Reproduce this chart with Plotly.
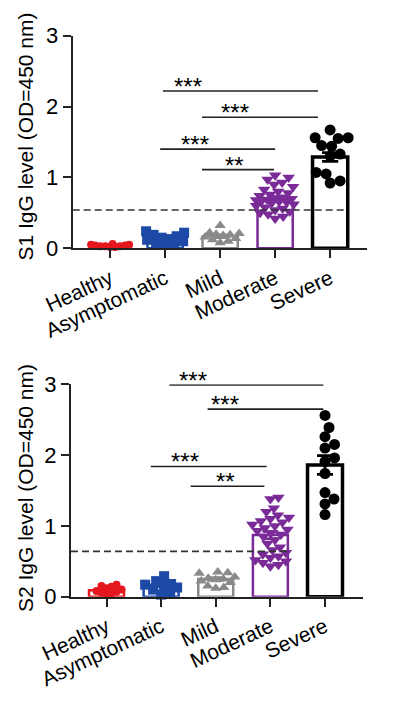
import plotly.graph_objects as go
import numpy as np

categories = ["Healthy", "Asymptomatic", "Mild", "Moderate", "Severe"]
colors = ["#e3171d", "#1d4aa6", "#8a8a8a", "#7a2b98", "#000000"]
symbols = ["circle", "square", "triangle-up", "triangle-down", "circle"]
msizes = [8, 10, 10, 11, 11]

# ---- S1 panel data ----
s1_healthy = [0.02, 0.03, 0.04, 0.05, 0.03, 0.06, 0.04, 0.02, 0.05, 0.03]
s1_asymptomatic = [0.24, 0.22, 0.19, 0.17, 0.15, 0.13, 0.12, 0.10, 0.08, 0.06, 0.05]
s1_mild = [0.32, 0.22, 0.21, 0.20, 0.19, 0.18, 0.16, 0.14, 0.12, 0.10, 0.08]
s1_moderate = [1.03, 1.00, 0.97, 0.93, 0.90, 0.87, 0.83, 0.80, 0.78, 0.76,
               0.74, 0.72, 0.71, 0.70, 0.69, 0.68, 0.67, 0.66, 0.65, 0.64,
               0.62, 0.60, 0.58, 0.56, 0.54, 0.52, 0.50, 0.48, 0.45, 0.42]
s1_severe = [1.67, 1.56, 1.56, 1.55, 1.45, 1.44, 1.33, 1.30, 1.07, 1.05, 0.95, 0.92]
s1_means = [0.04, 0.12, 0.17, 0.70, 1.29]
s1_sem = [0.005, 0.02, 0.02, 0.03, 0.06]
s1_cutoff = 0.54
s1_cutoff_end = 4.27
s1_sig_x0 = [0.96, 1.67, 0.91, 1.67]
s1_sig_x1 = [3.78, 3.78, 3.00, 2.98]
s1_sig_y = [2.22, 1.85, 1.40, 1.11]
s1_sig_text = ["***", "***", "***", "**"]
s1_sig_tx = [1.42, 2.27, 1.55, 2.27]

# ---- S2 panel data ----
s2_healthy = [0.17, 0.15, 0.14, 0.12, 0.10, 0.08, 0.07, 0.06, 0.05, 0.04]
s2_asymptomatic = [0.29, 0.22, 0.18, 0.17, 0.15, 0.13, 0.10, 0.05, 0.03]
s2_mild = [0.35, 0.34, 0.33, 0.28, 0.26, 0.25, 0.24, 0.22, 0.20, 0.15, 0.13, 0.12]
s2_moderate = [1.40, 1.38, 1.25, 1.20, 1.15, 1.12, 1.10, 1.07, 1.05, 1.02,
               1.00, 0.97, 0.95, 0.93, 0.90, 0.88, 0.85, 0.80, 0.75, 0.70,
               0.66, 0.62, 0.60, 0.57, 0.55, 0.52, 0.50, 0.48, 0.45, 0.43]
s2_severe = [2.56, 2.39, 2.26, 2.15, 2.10, 1.96, 1.91, 1.74, 1.47, 1.38, 1.31, 1.16]
s2_means = [0.09, 0.17, 0.25, 0.87, 1.86]
s2_sem = [0.01, 0.03, 0.02, 0.05, 0.13]
s2_cutoff = 0.64
s2_cutoff_end = 3.32
s2_sig_x0 = [1.15, 1.85, 0.81, 1.54]
s2_sig_x1 = [3.97, 3.97, 2.93, 2.89]
s2_sig_y = [2.99, 2.65, 1.84, 1.56]
s2_sig_text = ["***", "***", "***", "**"]
s2_sig_tx = [1.59, 2.17, 1.43, 2.17]

FONT = "Arial, Liberation Sans, Helvetica, sans-serif"
W, H, OFF = 394, 701, 8  # page body margin offset


def px_x(v):
    return (v - OFF) / W


def px_y(v):
    return 1 - (v - OFF) / H


def swarm(values, ppx, ppy, diam, maxoff):
    placed = []
    res = [0.0] * len(values)
    order = np.argsort(values)
    cands = [0.0]
    k = 1
    while k * 0.5 <= maxoff:
        cands += [k * 0.5, -k * 0.5]
        k += 1
    for i in order:
        v = values[i]
        best = None
        for c in cands:
            if all((c - px) ** 2 + ((v - pv) * ppy) ** 2 >= diam ** 2 for px, pv in placed):
                best = c
                break
        if best is None:
            best = max(cands, key=lambda c: min((c - px) ** 2 + ((v - pv) * ppy) ** 2
                                                for px, pv in placed))
        placed.append((best, v))
        res[i] = best / ppx
    return res


fig = go.Figure()

panels = [
    dict(groups=[s1_healthy, s1_asymptomatic, s1_mild, s1_moderate, s1_severe],
         means=s1_means, sem=s1_sem, cutoff=s1_cutoff, cend=s1_cutoff_end,
         sx0=s1_sig_x0, sx1=s1_sig_x1, sy=s1_sig_y, st=s1_sig_text, stx=s1_sig_tx,
         xa="x", ya="y", ppx=55.0, ppy=70.9, xr=[-0.68, 4.67]),
    dict(groups=[s2_healthy, s2_asymptomatic, s2_mild, s2_moderate, s2_severe],
         means=s2_means, sem=s2_sem, cutoff=s2_cutoff, cend=s2_cutoff_end,
         sx0=s2_sig_x0, sx1=s2_sig_x1, sy=s2_sig_y, st=s2_sig_text, stx=s2_sig_tx,
         xa="x2", ya="y2", ppx=54.6, ppy=70.8, xr=[-0.65, 4.69]),
]

collide = [5, 9, 8, 8, 10]

for p in panels:
    for i in range(5):
        fig.add_trace(go.Bar(
            x=[i], y=[p["means"][i]], width=0.64,
            marker=dict(color="white", line=dict(color=colors[i], width=3.5 if i == 4 else 2.5)),
            error_y=dict(type="data", array=[p["sem"][i]], color=colors[i],
                         thickness=2.5, width=8, symmetric=True),
            xaxis=p["xa"], yaxis=p["ya"], showlegend=False, cliponaxis=False))
    for i in range(5):
        vals = p["groups"][i]
        offs = swarm(vals, p["ppx"], p["ppy"], collide[i], 19)
        fig.add_trace(go.Scatter(
            x=[i + o for o in offs], y=vals, mode="markers",
            marker=dict(symbol=symbols[i], color=colors[i], size=msizes[i], line=dict(width=0)),
            xaxis=p["xa"], yaxis=p["ya"], showlegend=False, cliponaxis=False))
    fig.add_trace(go.Scatter(
        x=[4], y=[p["means"][4]], mode="markers",
        marker=dict(size=1, color="rgba(0,0,0,0)"),
        error_y=dict(type="data", array=[p["sem"][4]], color="black", thickness=2.5, width=8),
        xaxis=p["xa"], yaxis=p["ya"], showlegend=False, cliponaxis=False))
    fig.add_shape(type="line", xref=p["xa"], yref=p["ya"],
                  x0=p["xr"][0], x1=p["cend"], y0=p["cutoff"], y1=p["cutoff"],
                  line=dict(color="#333333", width=1.6, dash="7px,4px"))
    for j in range(len(p["sy"])):
        fig.add_shape(type="line", xref=p["xa"], yref=p["ya"],
                      x0=p["sx0"][j], x1=p["sx1"][j], y0=p["sy"][j], y1=p["sy"][j],
                      line=dict(color="#222222", width=1.6))
        fig.add_annotation(x=p["stx"][j], y=p["sy"][j], xref=p["xa"], yref=p["ya"],
                           text=p["st"][j], showarrow=False, yanchor="bottom", yshift=-11,
                           xanchor="center",
                           font=dict(family=FONT, size=24, color="black"))

axis_common = dict(showline=True, linecolor="#222222", linewidth=2, ticks="outside",
                   ticklen=8, tickwidth=2, tickcolor="#222222", showgrid=False,
                   zeroline=False, automargin=False)
xfont = dict(family=FONT, size=21, color="black")
yfont = dict(family=FONT, size=22, color="black")

fig.update_layout(
    width=W, height=H, margin=dict(l=0, r=0, t=0, b=0, autoexpand=False),
    paper_bgcolor="white", plot_bgcolor="white", barmode="overlay",
    xaxis=dict(domain=[px_x(72.7), px_x(367)], range=panels[0]["xr"], anchor="y",
               tickvals=list(range(5)), ticktext=categories, tickangle=-25,
               tickfont=xfont, **axis_common),
    yaxis=dict(domain=[px_y(248.3), px_y(35.7)], range=[0, 3], anchor="x",
               tickvals=[0, 1, 2, 3], tickfont=yfont, **axis_common),
    xaxis2=dict(domain=[px_x(71), px_x(362.7)], range=panels[1]["xr"], anchor="y2",
                tickvals=list(range(5)), ticktext=categories, tickangle=-25,
                tickfont=xfont, **axis_common),
    yaxis2=dict(domain=[px_y(596.7), px_y(384.3)], range=[0, 3], anchor="x2",
                tickvals=[0, 1, 2, 3], tickfont=yfont, **axis_common),
)

fig.add_annotation(x=px_x(25), y=px_y(136.5), xref="paper", yref="paper",
                   xanchor="center", yanchor="middle",
                   text="S1 IgG level (OD=450 nm)", textangle=-90, showarrow=False,
                   font=dict(family=FONT, size=21, color="black"))
fig.add_annotation(x=px_x(25), y=px_y(488), xref="paper", yref="paper",
                   xanchor="center", yanchor="middle",
                   text="S2 IgG level (OD=450 nm)", textangle=-90, showarrow=False,
                   font=dict(family=FONT, size=21, color="black"))

fig.write_html("out.html")
